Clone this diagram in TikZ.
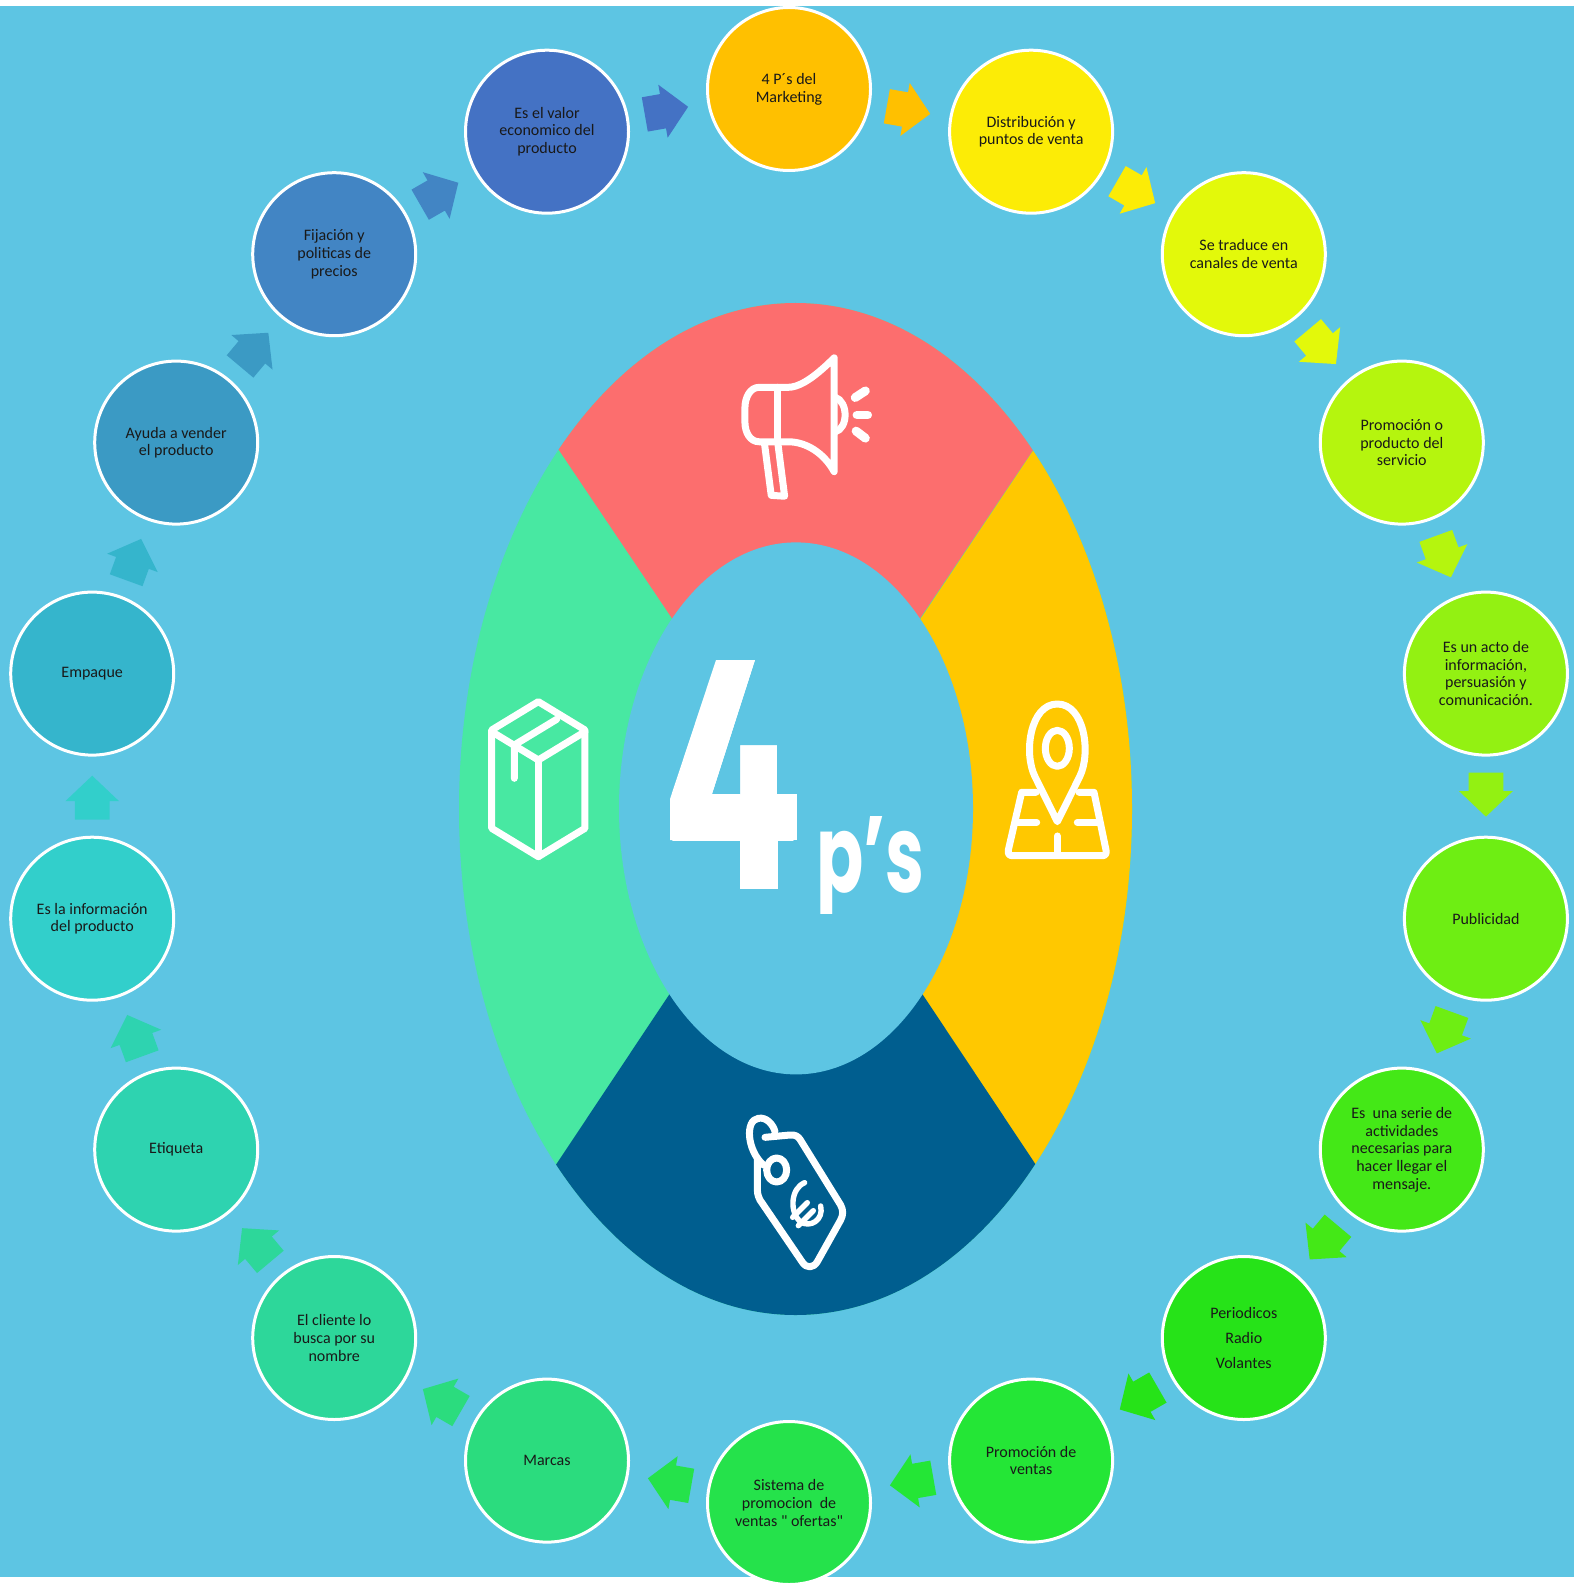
\documentclass[tikz,border=0pt]{standalone}
\usepackage{fontspec}
\usepackage{graphicx}
\usetikzlibrary{shapes.arrows,calc}
\newfontfamily\carlito{Carlito}
\newfontfamily\heavy{Poppins Black}
\newfontfamily\semiheavy{Poppins Bold}
\definecolor{bgc}{HTML}{5DC5E3}
\definecolor{ringR}{HTML}{FC6E6E}
\definecolor{ringY}{HTML}{FFC800}
\definecolor{ringG}{HTML}{48E8A2}
\definecolor{ringB}{HTML}{005E8F}
\definecolor{c1}{HTML}{FFC000}
\definecolor{c2}{HTML}{FCEC06}
\definecolor{c3}{HTML}{E3F90A}
\definecolor{c4}{HTML}{B5F50E}
\definecolor{c5}{HTML}{93F112}
\definecolor{c6}{HTML}{6EEE13}
\definecolor{c7}{HTML}{44E817}
\definecolor{c8}{HTML}{26E318}
\definecolor{c9}{HTML}{24E636}
\definecolor{c10}{HTML}{25E24B}
\definecolor{c11}{HTML}{2BDC7E}
\definecolor{c12}{HTML}{2DD79A}
\definecolor{c13}{HTML}{2ED3B0}
\definecolor{c14}{HTML}{32CFCB}
\definecolor{c15}{HTML}{35B5CC}
\definecolor{c16}{HTML}{3B9AC4}
\definecolor{c17}{HTML}{4285C4}
\definecolor{c18}{HTML}{4472C4}
\tikzset{
  bub/.style={circle,draw=white,line width=1.5pt,minimum size=81.5pt,inner sep=0pt,outer sep=0pt,
    align=center,text=black!90,font=\carlito\fontsize{8}{8.85}\selectfont},
  blockarrow/.style={single arrow,draw=none,inner sep=0pt,outer sep=0pt,minimum height=22pt,
    text height=17pt,text depth=0pt,text width=0pt,minimum width=26.5pt,
    single arrow head extend=4.75pt,single arrow tip angle=93},
  icon/.style={draw=white,line width=3.5pt,line join=round,line cap=round},
  iconthick/.style={icon,line width=4.4pt},
  iconthin/.style={icon,line width=2.7pt}
}
\begin{document}
\begin{tikzpicture}[x=0.5pt,y=-0.5pt]
\useasboundingbox (0,0) rectangle (1574,1588);
\fill[white] (0,0) rectangle (1574,1588);
\fill[bgc] (0,6) rectangle (1574,1577);
% ring
\fill[ringG] (795.5,809) ellipse [x radius=336.5,y radius=506];
\begin{scope}
\clip (796,803) -- (444,279) -- (444,200) -- (1146,200) -- (1146,282) -- cycle;
\fill[ringR] (795.5,809) ellipse [x radius=336.5,y radius=506];
\end{scope}
\begin{scope}
\clip (796,805) -- (1146,282) -- (1300,282) -- (1300,1332) -- (1147,1332) -- cycle;
\fill[ringY] (795.5,809) ellipse [x radius=336.5,y radius=506];
\end{scope}
\begin{scope}
\clip (796,804) -- (446,1330) -- (446,1400) -- (1147,1400) -- (1147,1332) -- cycle;
\fill[ringB] (795.5,809) ellipse [x radius=336.5,y radius=506];
\end{scope}
\fill[bgc] (796,808.4) ellipse [x radius=177,y radius=266];
% centre text
\node[inner sep=0pt,text=white,anchor=south west] (four) at (662,890) {\resizebox{70pt}{115pt}{\heavy 4}};
% open-topped form of the figure
\fill[bgc] (655,648) rectangle (810,660);
\fill[bgc] (755,660) -- (810,660) -- (810,745) -- (740,745) -- (740,794) -- (712,794) -- cycle;
\fill[bgc] (777,745) -- (810,745) -- (810,794) -- (777,794) -- cycle;
\fill[bgc] (655,660) -- (716,660) -- (670,799) -- (655,830) -- cycle;
\fill[white] (716,660) -- (755,660) -- (712,794) -- (740,794) -- (740,840) -- (670,840) -- (670,799) -- cycle;
\fill[white] (770,794) rectangle (797,840);
\fill[bgc] (740,892) rectangle (655,840.5);
\fill[bgc] (778,892) rectangle (808,840.5);
\node[inner sep=0pt,text=white,anchor=base west] (ps) at (816,892) {\resizebox{54pt}{38pt}{\semiheavy p’s}};
\fill[bgc] (810,913.5) rectangle (865,935);
% megaphone
\begin{scope}[shift={(440,290)},scale=0.4464]
\draw[icon] (883,152) .. controls (830,205) and (800,218) .. (780,218) -- (715,218) .. controls (695,218) and (683,240) .. (683,265) -- (683,295) .. controls (683,320) and (695,340) .. (715,340) -- (780,340) .. controls (820,340) and (860,365) .. (883,407) -- cycle;
\draw[icon] (755,218) -- (755,340);
\draw[icon] (885,240) .. controls (915,250) and (915,310) .. (885,318);
\draw[icon] (727,345) -- (742,460) -- (772,462) -- (757,345);
\draw[iconthick] (930,241) -- (953,226);
\draw[iconthick] (934,280) -- (958,280);
\draw[iconthick] (932,316) -- (953,332);
\end{scope}
% box
\begin{scope}[shift={(470,680)},scale=0.3333]
\draw[icon] (205,65) -- (345,150) -- (345,445) -- (205,530) -- (65,445) -- (65,150) -- cycle;
\draw[icon] (65,155) -- (205,240) -- (345,155);
\draw[icon] (205,240) -- (205,530);
\draw[icon] (260,118) -- (133,195) -- (133,295);
\end{scope}
% pin
\begin{scope}[shift={(980,680)},scale=0.3333]
\draw[icon] (232,425) -- (165,290) .. controls (130,220) and (150,72) .. (232,72) .. controls (314,72) and (334,220) .. (299,290) -- cycle;
\draw[icon] (232,205) ellipse [x radius=36,y radius=54];
\draw[icon] (168,337) -- (125,337) -- (85,510) .. controls (83,522) and (88,527) .. (97,527) -- (368,527) .. controls (377,527) and (380,520) .. (378,510) -- (342,337) -- (297,337);
\draw[icon] (110,427) -- (170,427);
\draw[icon] (292,427) -- (355,427);
\draw[icon] (232,468) -- (232,525);
\end{scope}
% tag
\begin{scope}[shift={(700,1080)},scale=0.3333]
\draw[icon] (195,172) -- (270,165) .. controls (285,163) and (295,170) .. (300,178) -- (422,375) .. controls (430,390) and (430,405) .. (422,420) -- (352,545) .. controls (340,565) and (320,565) .. (308,548) -- (180,360) .. controls (172,345) and (172,335) .. (172,320) -- (172,235);
\draw[icon] (230,270) ellipse [x radius=30,y radius=36];
\draw[icon] (190,255) .. controls (140,210) and (135,120) .. (175,115) .. controls (200,110) and (220,135) .. (225,155);
\draw[iconthin] (314,308) .. controls (272,325) and (268,395) .. (300,425) .. controls (330,445) and (372,420) .. (362,378);
\draw[iconthin] (278,412) -- (322,368);
\draw[iconthin] (295,437) -- (340,392);
\end{scope}
% circles
\node[bub,fill=c1] (n1) at (789,89) {4 P´s del\\Marketing};
\node[bub,fill=c2] (n2) at (1031.1,131.7) {Distribución y\\puntos de venta};
\node[bub,fill=c3] (n3) at (1243.8,254.2) {Se traduce en\\canales de venta};
\node[bub,fill=c4] (n4) at (1401.8,442.6) {Promoción o\\producto del\\servicio};
\node[bub,fill=c5] (n5) at (1485.9,673.6) {Es un acto de\\información,\\persuasión y\\comunicación.};
\node[bub,fill=c6] (n6) at (1485.9,918.7) {Publicidad};
\node[bub,fill=c7] (n7) at (1401.8,1149.6) {Es\ \ una serie de\\actividades\\necesarias para\\hacer llegar el\\mensaje.};
\node[bub,fill=c8] (n8) at (1243.8,1338) {Periodicos\\[3.7pt]Radio\\[3.7pt]Volantes};
\node[bub,fill=c9] (n9) at (1031.1,1460.6) {Promoción de\\ventas};
\node[bub,fill=c10] (n10) at (789,1503) {Sistema de\\promocion\ \ de\\ventas " ofertas"};
\node[bub,fill=c11] (n11) at (547,1460.6) {Marcas};
\node[bub,fill=c12] (n12) at (334.2,1338) {El cliente lo\\busca por su\\nombre};
\node[bub,fill=c13] (n13) at (176.2,1149.6) {Etiqueta};
\node[bub,fill=c14] (n14) at (92.2,918.7) {Es la información\\del producto};
\node[bub,fill=c15] (n15) at (92.2,673.6) {Empaque};
\node[bub,fill=c16] (n16) at (176.2,442.6) {Ayuda a vender\\el producto};
\node[bub,fill=c17] (n17) at (334.2,254.2) {Fijación y\\politicas de\\precios};
\node[bub,fill=c18] (n18) at (547,131.7) {Es el valor\\economico del\\producto};
% arrows
\foreach \a/\b in {1/2,2/3,3/4,4/5,5/6,6/7,7/8,8/9,9/10,10/11,11/12,12/13,13/14,14/15,15/16,16/17,17/18,18/1}{
  \path (n\a.center) -- node[pos=0.46,sloped,allow upside down,blockarrow,fill=c\a] (arr\a) {} (n\b.center);
}
\end{tikzpicture}
\end{document}
